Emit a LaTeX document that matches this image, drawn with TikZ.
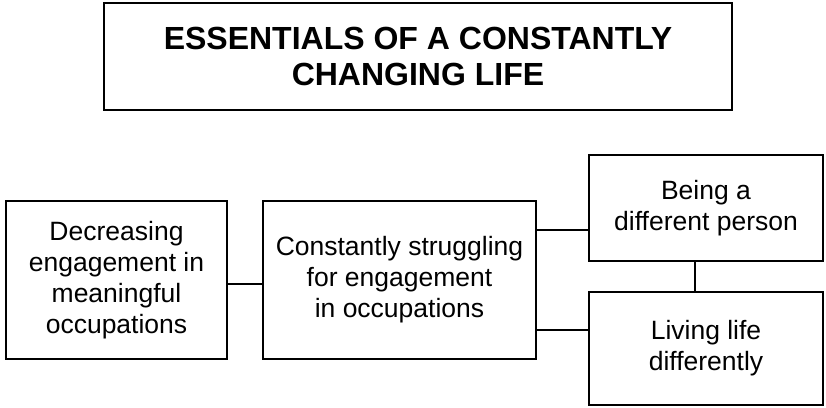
\documentclass[tikz,border=0pt]{standalone}
\usepackage{fontspec}
\setmainfont{Liberation Sans}
\begin{document}
\begin{tikzpicture}[x=1pt,y=-1pt,
  box/.style={draw=black,line width=2.7pt,rectangle,inner sep=0pt,align=center,
    font=\fontsize{26.5}{31}\selectfont},
  titlebox/.style={box,font=\bfseries\fontsize{32}{36.5}\selectfont},
  link/.style={draw=black,line width=2.7pt}]
\useasboundingbox (0,0) rectangle (826,407);
\node[titlebox,minimum width=628pt,minimum height=107pt] (title) at (418,56.5)
  {ESSENTIALS OF A CONSTANTLY\\CHANGING LIFE};
\node[box,minimum width=221pt,minimum height=158pt] (dec) at (116.5,280)
  {Decreasing\\engagement in\\meaningful\\occupations};
\node[box,minimum width=273pt,minimum height=158pt] (str) at (399.5,280)
  {Constantly struggling\\for engagement\\in occupations};
\node[box,minimum width=234pt,minimum height=106pt] (diff) at (706,208)
  {Being a\\different person};
\node[box,minimum width=234pt,minimum height=113pt] (liv) at (706,348.5)
  {Living life\\differently};
\coordinate (y1) at (0,284);
\coordinate (y2) at (0,230);
\coordinate (y3) at (0,330);
\coordinate (vx) at (695,0);
\draw[link] (dec.east |- y1) -- (str.west |- y1);
\draw[link] (str.east |- y2) -- (diff.west |- y2);
\draw[link] (str.east |- y3) -- (liv.west |- y3);
\draw[link] (diff.south -| vx) -- (liv.north -| vx);
\end{tikzpicture}
\end{document}
